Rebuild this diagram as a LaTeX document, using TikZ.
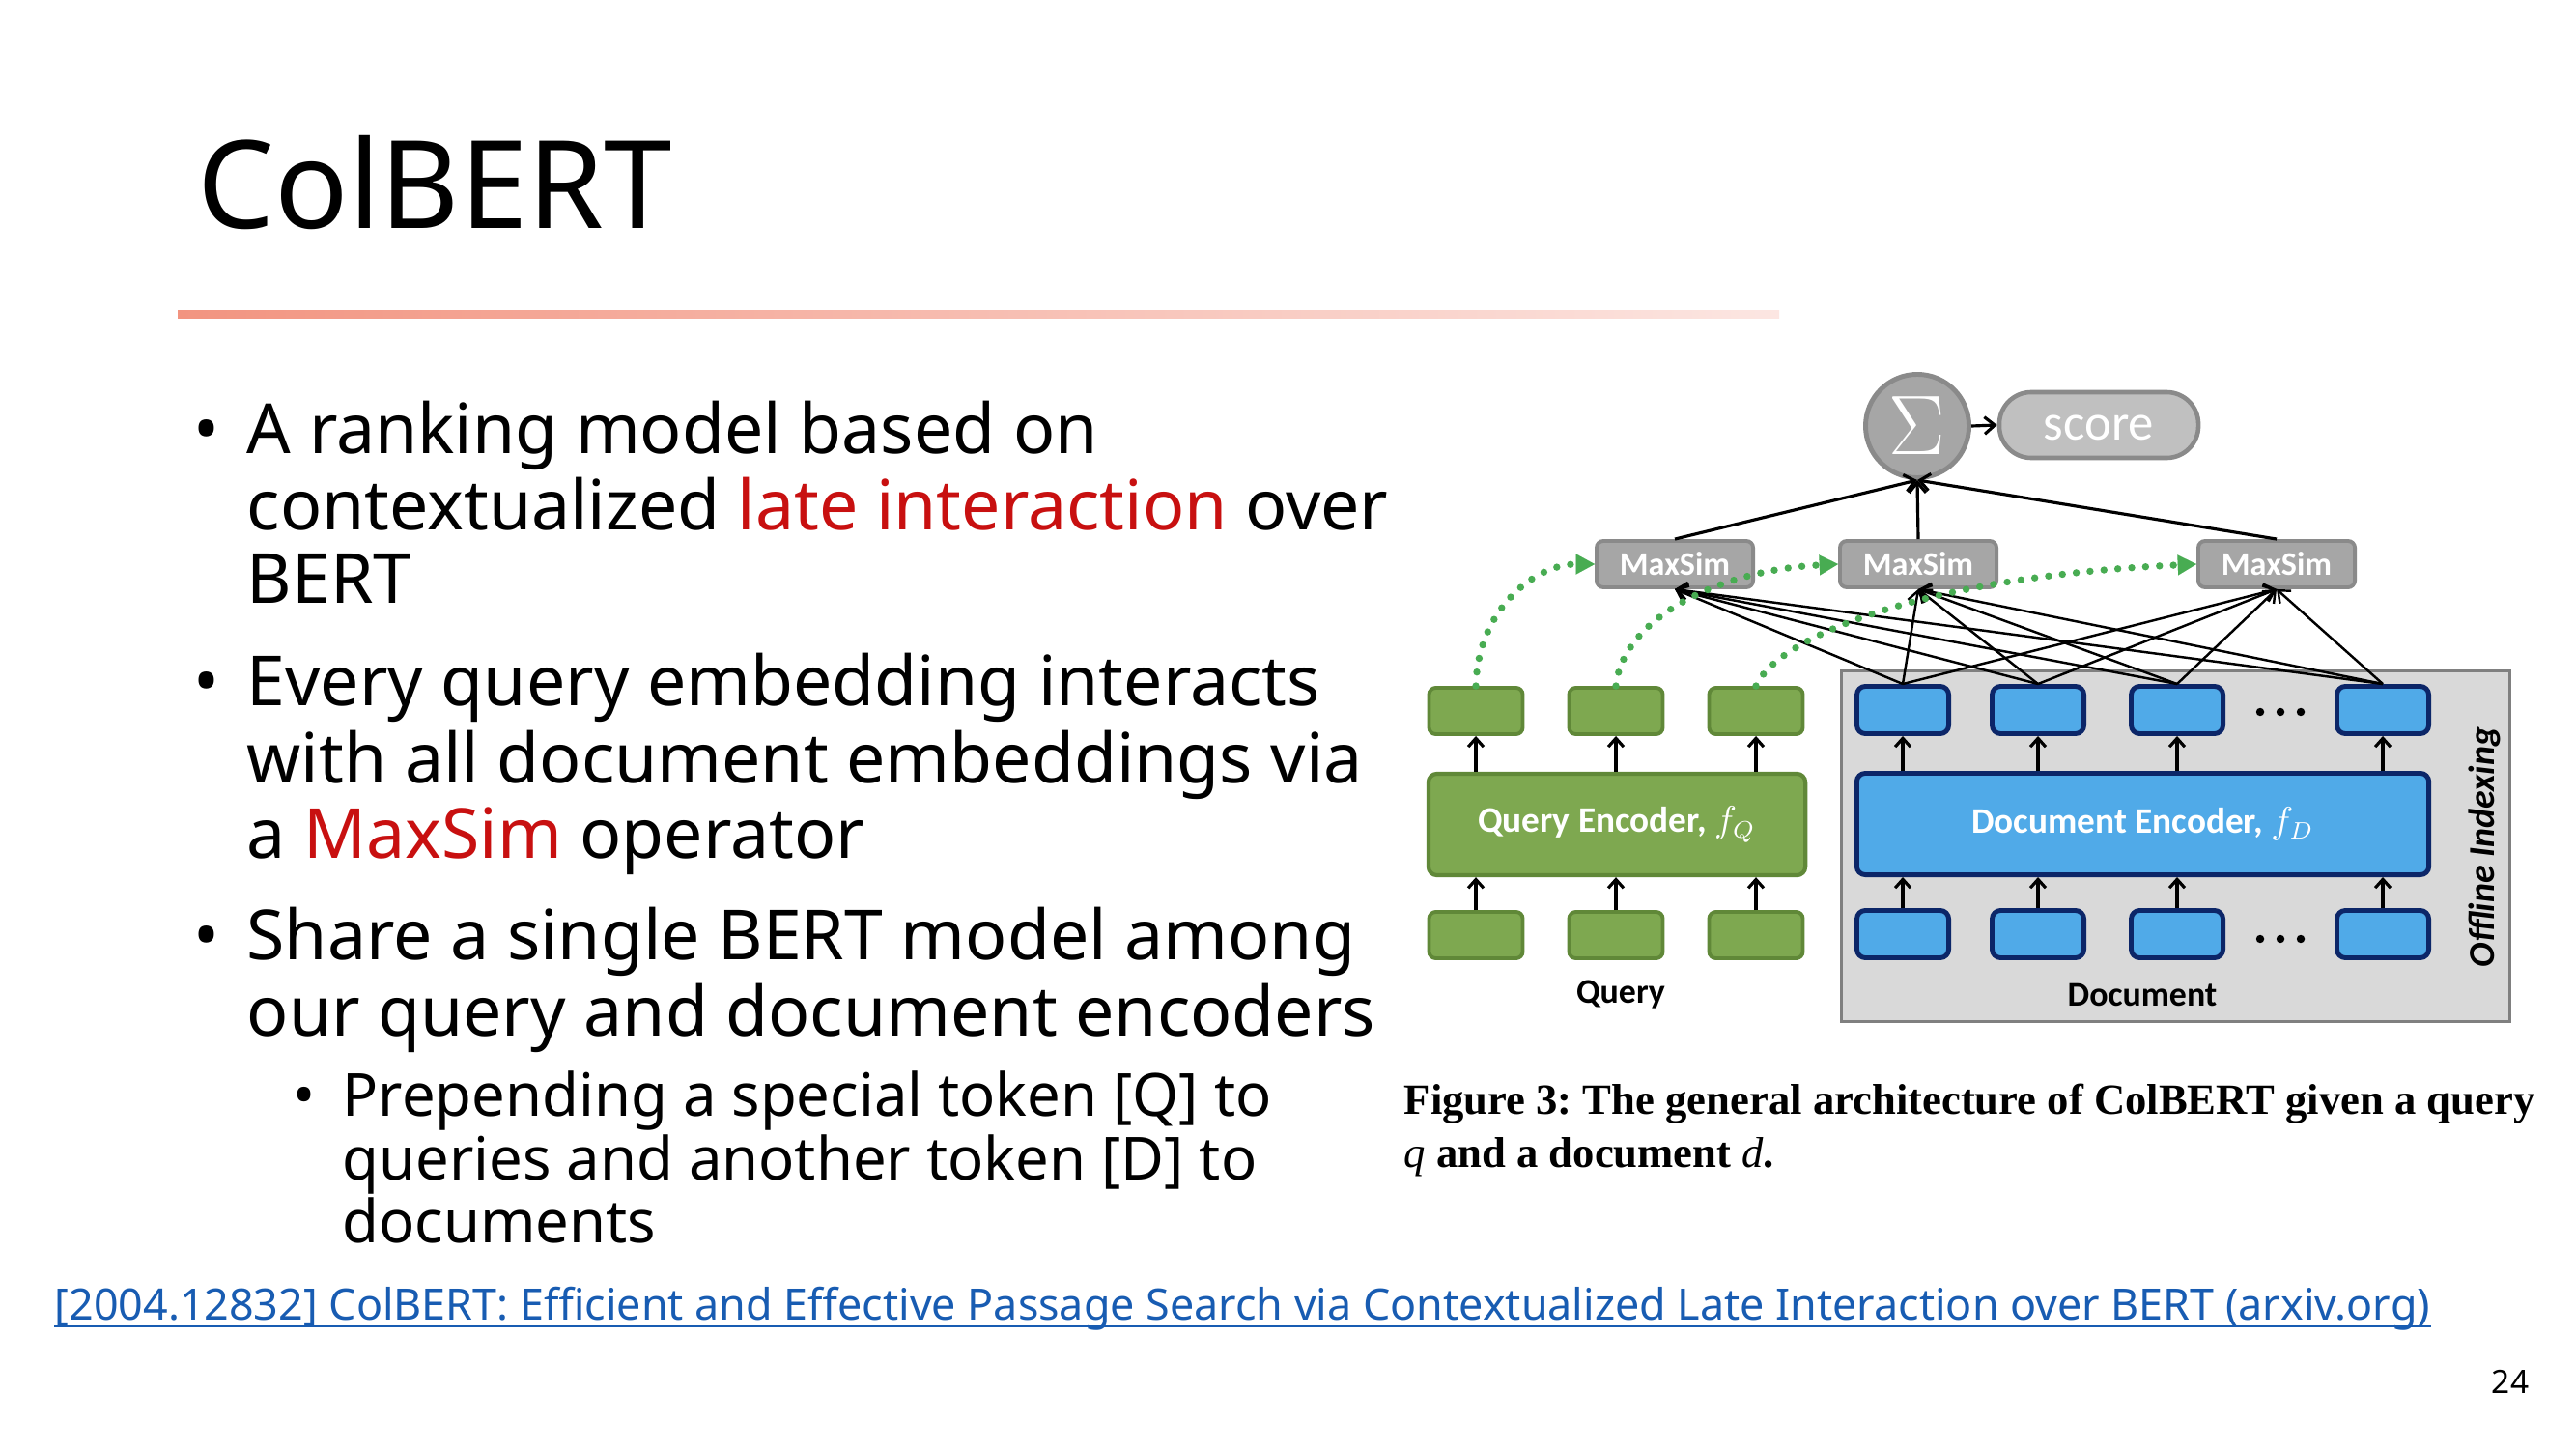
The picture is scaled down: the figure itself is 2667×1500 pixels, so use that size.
\documentclass[tikz,border=0pt]{standalone}
\usepackage{fontspec}
\setmainfont{Noto Sans}
\newfontfamily\diagfont{Carlito}
\newfontfamily\capfont{Liberation Serif}
\usetikzlibrary{arrows.meta,calc}
\frenchspacing

\definecolor{accentred}{RGB}{200,16,16}
\definecolor{linkblue}{RGB}{24,92,178}
\definecolor{barleft}{RGB}{242,148,128}
\definecolor{barright}{RGB}{252,230,226}
\definecolor{qfill}{RGB}{126,168,80}
\definecolor{qborder}{RGB}{96,136,56}
\definecolor{dfill}{RGB}{80,170,232}
\definecolor{dborder}{RGB}{12,38,104}
\definecolor{panelfill}{RGB}{217,217,217}
\definecolor{panelborder}{RGB}{128,128,128}
\definecolor{msfill}{RGB}{166,166,166}
\definecolor{msborder}{RGB}{138,138,138}
\definecolor{scorefill}{RGB}{192,192,192}
\definecolor{dotgreen}{RGB}{72,172,82}

\tikzset{
  bodyline/.style={anchor=base west, inner sep=0pt, font=\fontsize{20.35}{24}\selectfont},
  subline/.style={anchor=base west, inner sep=0pt, font=\fontsize{17.5}{21}\selectfont},
  bodybullet/.style={anchor=base, inner sep=0pt, font=\fontsize{20.35}{24}\selectfont},
  subbullet/.style={anchor=base, inner sep=0pt, font=\fontsize{17.5}{21}\selectfont},
  qtok/.style={draw=qborder, fill=qfill, line width=1.1pt, rounded corners=2pt,
    minimum width=0.97cm, minimum height=0.48cm, inner sep=0pt},
  dtok/.style={draw=dborder, fill=dfill, line width=1.4pt, rounded corners=2.5pt,
    minimum width=0.95cm, minimum height=0.49cm, inner sep=0pt},
  encoder/.style={line width=1.2pt, rounded corners=2.5pt, minimum height=1.05cm,
    inner sep=0pt, text=white, font=\diagfont\bfseries\fontsize{10.6}{12}\selectfont},
  msbox/.style={draw=msborder, fill=msfill, line width=1.1pt, rounded corners=2pt,
    minimum width=1.62cm, minimum height=0.48cm, inner sep=0pt, text=white,
    font=\diagfont\bfseries\fontsize{9.7}{10}\selectfont},
  encarrow/.style={line width=0.9pt, -{Straight Barb[length=2.5pt,width=4.5pt]}},
  simlink/.style={line width=0.7pt, -{Straight Barb[length=3pt,width=5pt]}},
  sumlink/.style={line width=0.9pt, -{Straight Barb[length=3pt,width=5pt]}},
  dotflow/.style={draw=dotgreen, line width=2.1pt, line cap=round,
    dash pattern=on 0pt off 4.1pt,
    -{Triangle[length=5.5pt,width=6pt,line width=0.01pt]}},
  tokdots/.style={fill=black},
  sidelabel/.style={font=\diagfont\bfseries\fontsize{10.2}{12}\selectfont, inner sep=0pt},
}

\begin{document}
\begin{tikzpicture}[x=0.01cm,y=-0.01cm]
\path[use as bounding box, fill=white] (0,0) rectangle (2667,1500);

% ---------- title and rule ----------
\node[anchor=base west, inner sep=0pt, font=\fontsize{36}{40}\selectfont] (title) at (204,236) {ColBERT};
\shade[left color=barleft, right color=barright] (184,321) rectangle (1842,329);

% ---------- bullet list ----------
\node[bodybullet] (bu1) at (214,469) {\textbullet};
\node[bodyline] (l11) at (255,469) {A ranking model based on};
\node[bodyline] (l12) at (255,548) {contextualized \textcolor{accentred}{late interaction} over};
\node[bodyline] (l13) at (255,624) {BERT};

\node[bodybullet] (bu2) at (214,730) {\textbullet};
\node[bodyline] (l21) at (255,730) {Every query embedding interacts};
\node[bodyline] (l22) at (255,810) {with all document embeddings via};
\node[bodyline] (l23) at (255,888) {a \textcolor{accentred}{MaxSim} operator};

\node[bodybullet] (bu3) at (214,993) {\textbullet};
\node[bodyline] (l31) at (255,993) {Share a single BERT model among};
\node[bodyline] (l32) at (255,1072) {our query and document encoders};

\node[subbullet] (bu4) at (315,1155) {\textbullet};
\node[subline] (l41) at (354,1155) {Prepending a special token [Q] to};
\node[subline] (l42) at (354,1221) {queries and another token [D] to};
\node[subline] (l43) at (354,1286) {documents};

% ---------- reference link and page number ----------
\node[anchor=base west, inner sep=0pt, text=linkblue, font=\fontsize{12.75}{14}\selectfont] (link) at (56,1366)
  {[2004.12832] ColBERT: Efficient and Effective Passage Search via Contextualized Late Interaction over BERT (arxiv.org)};
\draw[linkblue, line width=0.8pt] ($(link.base west)+(0,7)$) -- ($(link.base east)+(0,7)$);
\node[anchor=base, inner sep=0pt, font=\fontsize{9.5}{11}\selectfont] (pagenum) at (2599,1442) {24};

% ---------- caption ----------
\node[anchor=base west, inner sep=0pt, font=\capfont\bfseries\fontsize{12.7}{15}\selectfont] (cap1) at (1453,1153)
  {Figure 3: The general architecture of ColBERT given a query};
\node[anchor=base west, inner sep=0pt, font=\capfont\bfseries\fontsize{12.7}{15}\selectfont] (cap2) at (1453,1208)
  {{\mdseries\itshape q} and a document {\mdseries\itshape d}.};

% ---------- architecture diagram ----------
% offline indexing panel
\node[draw=panelborder, fill=panelfill, line width=0.85pt, minimum width=6.91cm, minimum height=3.62cm, inner sep=0pt]
  (panel) at (2252.5,876) {};
\node[rotate=90, font=\diagfont\bfseries\itshape\fontsize{10.8}{12}\selectfont, inner sep=0pt] (offl) at (2572,877) {Offline Indexing};

% query side
\node[qtok] (qt1) at (1528,736) {};
\node[qtok] (qt2) at (1673,736) {};
\node[qtok] (qt3) at (1818,736) {};
\node[encoder, draw=qborder, fill=qfill, minimum width=3.90cm] (qenc) at (1674,853.5) {Query Encoder, $f_Q$};
\node[qtok] (qb1) at (1528,968) {};
\node[qtok] (qb2) at (1673,968) {};
\node[qtok] (qb3) at (1818,968) {};
\node[sidelabel] (qlab) at (1678,1030) {Query};

% document side
\node[dtok] (dt1) at (1970,735) {};
\node[dtok] (dt2) at (2110,735) {};
\node[dtok] (dt3) at (2254,735) {};
\node[dtok] (dt4) at (2467,735) {};
\node[encoder, draw=dborder, fill=dfill, line width=1.4pt, minimum width=5.92cm] (denc) at (2218.5,853) {Document Encoder, $f_D$};
\node[dtok] (db1) at (1970,967) {};
\node[dtok] (db2) at (2110,967) {};
\node[dtok] (db3) at (2254,967) {};
\node[dtok] (db4) at (2467,967) {};
\node[sidelabel] (dlab) at (2218,1030) {Document};
\foreach \dx in {-21,0,21} {
  \fill[tokdots] (2361+\dx,737) circle (1.2pt);
  \fill[tokdots] (2361+\dx,972) circle (1.2pt);
}

% encoder arrows
\foreach \i in {1,2,3} {
  \draw[encarrow] (qb\i.north) -- (qb\i.north |- qenc.south);
  \draw[encarrow] (qt\i.south |- qenc.north) -- (qt\i.south);
}
\foreach \i in {1,2,3,4} {
  \draw[encarrow] (db\i.north) -- (db\i.north |- denc.south);
  \draw[encarrow] (dt\i.south |- denc.north) -- (dt\i.south);
}

% maxsim operators, sum and score
\node[msbox] (ms1) at (1734,584) {MaxSim};
\node[msbox] (ms2) at (1986,584) {MaxSim};
\node[msbox] (ms3) at (2357,584) {MaxSim};
\node[circle, draw=msborder, fill=msfill, line width=1.4pt, minimum size=1.07cm, inner sep=0pt,
  text=white, font=\fontsize{27}{27}\selectfont] (sig) at (1985,441) {$\Sigma$};
\node[draw=msborder, fill=scorefill, line width=1.3pt, rounded corners=0.33cm, minimum width=2.06cm,
  minimum height=0.68cm, inner sep=0pt, text=white, text height=9pt, text depth=0pt,
  font=\diagfont\fontsize{15}{16}\selectfont]
  (score) at (2173,440) {score};

\foreach \m in {1,2,3} {
  \foreach \d in {1,2,3,4} {
    \draw[simlink] (dt\d.north) -- (ms\m.south);
  }
  \draw[sumlink] (ms\m.north) -- (sig.south);
}
\draw[sumlink] (sig.east) -- (score.west);

% query embeddings flowing into the maxsim operators
\draw[dotflow] (qt1.north) .. controls (1530,630) and (1590,584) .. (ms1.west);
\draw[dotflow] (qt2.north) .. controls (1680,640) and (1780,590) .. (ms2.west);
\draw[dotflow] (qt3.north) .. controls (1840,660) and (1990,597) .. (ms3.west);
\end{tikzpicture}
\end{document}
